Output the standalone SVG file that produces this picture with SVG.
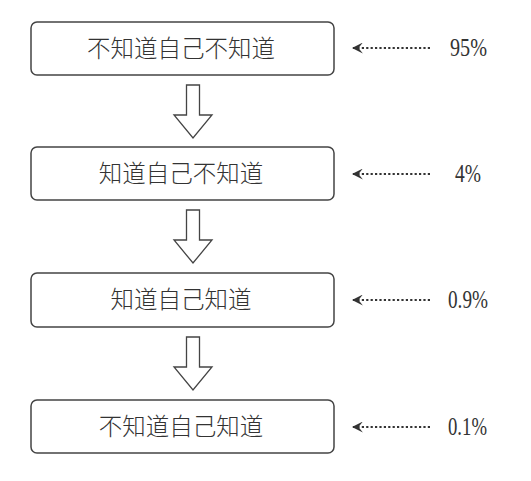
<svg xmlns="http://www.w3.org/2000/svg" width="531" height="481" viewBox="0 0 531 481">
<style>
.box{fill:#fff;stroke:#444;stroke-width:1.5}
.lbl{font-family:"Liberation Serif","Noto Sans CJK SC",serif;font-size:23.5px;font-weight:300;fill:#333;text-anchor:middle}
.pct{font-family:"Liberation Serif",serif;font-size:25px;fill:#333}
.dot{stroke:#333;stroke-width:2.2;stroke-dasharray:2.2 2.2;fill:none}
.blk{fill:#fff;stroke:#444;stroke-width:1.3}
</style>
<defs>
<marker id="ah" viewBox="0 0 10 10" refX="9" refY="5" markerWidth="11" markerHeight="11" markerUnits="userSpaceOnUse" orient="auto">
<path d="M10,5 L0,0 L4,5 L0,10 Z" fill="#333"/>
</marker>
<path id="ba" d="M-6.5,0 H6.5 V30 H19 L0,53 L-19,30 H-6.5 Z"/>
</defs>
<rect width="531" height="481" fill="#fff"/>
<g id="n1"><rect class="box" x="31" y="22" width="303" height="53" rx="6"/><text class="lbl" x="181" y="57">不知道自己不知道</text></g>
<g id="n2"><rect class="box" x="31" y="147" width="303" height="53" rx="6"/><text class="lbl" x="181" y="182">知道自己不知道</text></g>
<g id="n3"><rect class="box" x="31" y="273" width="303" height="54" rx="6"/><text class="lbl" x="181" y="308">知道自己知道</text></g>
<g id="n4"><rect class="box" x="31" y="400" width="303" height="53" rx="6"/><text class="lbl" x="181" y="435">不知道自己知道</text></g>
<g id="p1"><text class="pct" x="450" y="56" textLength="37" lengthAdjust="spacingAndGlyphs">95%</text></g>
<g id="p2"><text class="pct" x="455" y="182" textLength="26" lengthAdjust="spacingAndGlyphs">4%</text></g>
<g id="p3"><text class="pct" x="448" y="308" textLength="40" lengthAdjust="spacingAndGlyphs">0.9%</text></g>
<g id="p4"><text class="pct" x="448" y="435" textLength="39" lengthAdjust="spacingAndGlyphs">0.1%</text></g>
<g id="connectors">
<use href="#ba" class="blk" x="193" y="85"/>
<use href="#ba" class="blk" x="193" y="210"/>
<use href="#ba" class="blk" x="193" y="337"/>
<line class="dot" x1="430" y1="48" x2="353" y2="48" marker-end="url(#ah)"/>
<line class="dot" x1="430" y1="174" x2="353" y2="174" marker-end="url(#ah)"/>
<line class="dot" x1="430" y1="300" x2="353" y2="300" marker-end="url(#ah)"/>
<line class="dot" x1="430" y1="427" x2="353" y2="427" marker-end="url(#ah)"/>
</g>
</svg>
